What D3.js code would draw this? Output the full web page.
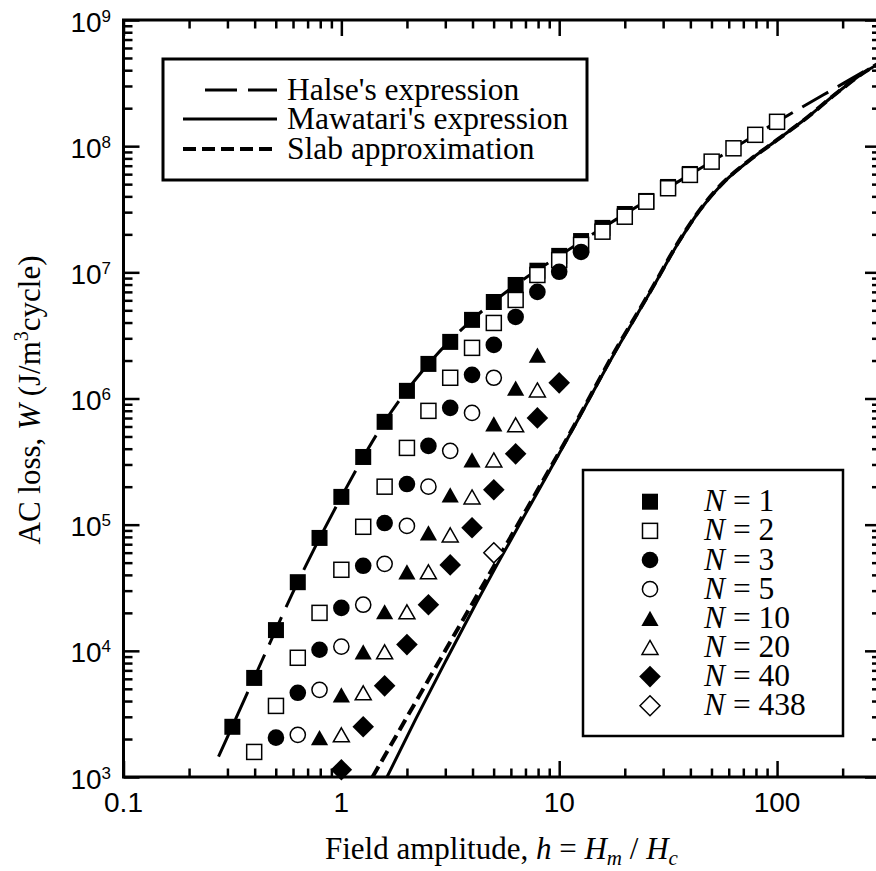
<!DOCTYPE html>
<html><head><meta charset="utf-8">
<script src="https://cdn.jsdelivr.net/npm/d3@7"></script>
<style>body{margin:0;background:#fff}svg{display:block}</style>
</head><body>
<svg id="c" width="876" height="871"></svg>
<script>
// ---- data ----
const n1H = [0.316,0.398,0.501,0.631,0.794,1,1.26,1.58,2,2.51,3.16,3.98,5.01,6.31,7.94,10,12.6,15.8,20,25.1,31.6,39.8];
const n1W = [2500,6100,14600,35000,78500,1.66e5,3.44e5,6.53e5,1.15e6,1.88e6,2.81e6,4.20e6,5.82e6,7.94e6,1.03e7,1.35e7,1.77e7,2.25e7,2.90e7,3.68e7,4.75e7,6.02e7];
const n2H = [0.398,0.501,0.631,0.794,1,1.26,1.58,2,2.51,3.16,3.98,5.01,6.31,7.94,10,12.6,15.8,20,25.1,31.6,39.8,50.1,63.1,79.4,100];
const n2W = [1580,3660,8810,2.0e4,4.39e4,9.62e4,2.0e5,4.06e5,7.98e5,1.46e6,2.52e6,3.97e6,6.04e6,9.53e6,1.25e7,1.65e7,2.10e7,2.76e7,3.63e7,4.64e7,5.92e7,7.54e7,9.62e7,1.23e8,1.56e8];
const n3H = [0.501,0.631,0.794,1,1.26,1.58,2,2.51,3.16,3.98,5.01,6.31,7.94,10,12.6];
const n3W = [2050,4650,1.02e4,2.19e4,4.72e4,1.03e5,2.10e5,4.21e5,8.43e5,1.54e6,2.66e6,4.43e6,7.00e6,1.01e7,1.45e7];
const n5H = [0.631,0.794,1,1.26,1.58,2,2.51,3.16,3.98,5.01];
const n5W = [2160,4910,1.08e4,2.32e4,4.89e4,9.77e4,2.0e5,3.85e5,7.69e5,1.46e6];
const n10H = [0.794,1,1.26,1.58,2,2.51,3.16,3.98,5.01,6.31,7.94];
const n10W = [2050,4480,9820,2.04e4,4.23e4,8.61e4,1.72e5,3.26e5,6.30e5,1.21e6,2.21e6];
const n20H = [1,1.26,1.58,2,2.51,3.16,3.98,5.01,6.31,7.94];
const n20W = [2160,4650,9820,2.04e4,4.23e4,8.30e4,1.66e5,3.26e5,6.18e5,1.17e6];
const n40H = [1,1.26,1.58,2,2.51,3.16,3.98,5.01,6.31,7.94,10];
const n40W = [1140,2500,5280,1.12e4,2.32e4,4.80e4,9.44e4,1.89e5,3.64e5,7.02e5,1.33e6];
const n438H = [5.01];
const n438W = [5.98e4];

const halseH = [0.273,0.398,0.631,1,1.58,2.51,3.98,6.31,10,15.8,25.1,39.8,63.1,100,207,300];
const halseW = [1450,6100,35000,1.66e5,6.53e5,1.88e6,4.20e6,7.94e6,1.35e7,2.25e7,3.68e7,5.95e7,9.62e7,1.56e8,3.23e8,4.68e8];
const mawH = [1.62,2.2,3.03,4.19,5.18,7.11,11.2,19.05,22.3,27,35.2,44.3,56.5,75.2,100,137,188,276,300];
const mawW = [1000,2900,8460,2.45e4,4.8e4,1.28e5,5.2e5,2.74e6,4.35e6,7.66e6,1.71e7,3.12e7,5.11e7,7.78e7,1.12e8,1.68e8,2.64e8,4.24e8,4.55e8];
const slabH = [1.39,2,3,5,7.11,11.2,19.05,22.3,27,35.2,44.3,56.5,75.2,100,137,188,276,300];
const slabW = [1000,2980,10050,4.65e4,1.34e5,5.3e5,2.80e6,4.42e6,7.75e6,1.73e7,3.14e7,5.13e7,7.80e7,1.12e8,1.68e8,2.64e8,4.24e8,4.55e8];

const xTickLabels = ["0.1","1","10","100"];
const yExponents = [3,4,5,6,7,8,9];
const curveNames = ["Halse's expression","Mawatari's expression","Slab approximation"];
const seriesNames = ["1","2","3","5","10","20","40","438"];

// ---- layout ----
const svg = d3.select("#c");
const L = 123.5, R = 881, T = 20, B = 777;
const x = d3.scaleLog().domain([0.1, 300]).range([L, R]);
const y = d3.scaleLog().domain([1e3, 1e9]).range([B, T]);
const SANS = "'Liberation Sans', Arial, Helvetica, sans-serif";
const SERIF = "'Liberation Serif', 'Times New Roman', Times, serif";

svg.append("rect").attr("width",876).attr("height",871).attr("fill","#fff");

// ticks
const xMajor = [0.1,1,10,100];
const xMinor = [];
[0.1,1,10,100].forEach(d=>{for(let m=2;m<=9;m++){const v=d*m; if(v<=300) xMinor.push(v);}});
const yMajor = yExponents.map(e=>Math.pow(10,e));
const yMinor = [];
yMajor.slice(0,-1).forEach(d=>{for(let m=2;m<=9;m++) yMinor.push(d*m);});

function tickAxis(axisFn, scale, vals, size, tr){
  const g = svg.append("g").attr("transform", tr)
    .call(axisFn(scale).tickValues(vals).tickSize(size).tickFormat(""));
  g.select(".domain").remove();
  g.selectAll("line").attr("stroke","#000").attr("stroke-width",2.5);
}
tickAxis(d3.axisBottom, x, xMajor, -16, `translate(0,${B})`);
tickAxis(d3.axisBottom, x, xMinor, -8.5, `translate(0,${B})`);
tickAxis(d3.axisTop, x, xMajor, -16, `translate(0,${T})`);
tickAxis(d3.axisTop, x, xMinor, -8.5, `translate(0,${T})`);
tickAxis(d3.axisLeft, y, yMajor, -16, `translate(${L},0)`);
tickAxis(d3.axisLeft, y, yMinor, -9, `translate(${L},0)`);
tickAxis(d3.axisRight, y, yMajor, -16, `translate(${R},0)`);
tickAxis(d3.axisRight, y, yMinor, -9, `translate(${R},0)`);

svg.append("rect").attr("x",L).attr("y",T).attr("width",R-L).attr("height",B-T)
  .attr("fill","none").attr("stroke","#000").attr("stroke-width",3);

// tick labels
xMajor.forEach((v,i)=>{
  svg.append("text").attr("x",x(v)).attr("y",812).attr("text-anchor","middle")
    .attr("font-family",SANS).attr("font-size",28).text(xTickLabels[i]);
});
yExponents.forEach(e=>{
  const t = svg.append("text").attr("x",111).attr("y",y(Math.pow(10,e))+11.5)
    .attr("text-anchor","end").attr("font-family",SANS).attr("font-size",28);
  t.append("tspan").text("10");
  t.append("tspan").attr("dy",-10).attr("font-size",17).text(e);
});

// axis titles
const xt = svg.append("text").attr("x",325).attr("y",859).attr("font-family",SERIF).attr("font-size",31);
xt.append("tspan").text("Field amplitude, ");
xt.append("tspan").attr("font-style","italic").text("h");
xt.append("tspan").text(" = ");
xt.append("tspan").attr("font-style","italic").text("H");
xt.append("tspan").attr("font-style","italic").attr("font-size",21).attr("dy",6).text("m");
xt.append("tspan").attr("dy",-6).text(" / ");
xt.append("tspan").attr("font-style","italic").text("H");
xt.append("tspan").attr("font-style","italic").attr("font-size",21).attr("dy",6).text("c");

const yt = svg.append("text").attr("transform","translate(39.5,400) rotate(-90)")
  .attr("text-anchor","middle").attr("font-family",SERIF).attr("font-size",31);
yt.append("tspan").text("AC loss, ");
yt.append("tspan").attr("font-style","italic").text("W");
yt.append("tspan").text(" (J/m");
yt.append("tspan").attr("font-size",20).attr("dy",-12).text("3");
yt.append("tspan").attr("dy",12).text("cycle)");

// clip
svg.append("clipPath").attr("id","pc").append("rect")
  .attr("x",L).attr("y",T).attr("width",R-L).attr("height",B-T);

const line = d3.line().x(d=>x(d[0])).y(d=>y(d[1])).curve(d3.curveMonotoneX);
const zip = (a,b)=>a.map((v,i)=>[v,b[i]]);
const curves = svg.append("g").attr("clip-path","url(#pc)");
curves.append("path").attr("d",line(zip(mawH,mawW))).attr("fill","none")
  .attr("stroke","#000").attr("stroke-width",3);
curves.append("path").attr("d",line(zip(slabH,slabW))).attr("fill","none")
  .attr("stroke","#000").attr("stroke-width",4).attr("stroke-dasharray","12,6");
curves.append("path").attr("d",line(zip(halseH,halseW))).attr("fill","none")
  .attr("stroke","#000").attr("stroke-width",3).attr("stroke-dasharray","30,11");

// markers
function marker(g, type, cx, cy){
  const filled = type.startsWith("f");
  const shape = type.slice(1);
  let el;
  if(shape==="sq"){
    el = filled ? g.append("rect").attr("x",cx-8).attr("y",cy-8).attr("width",16).attr("height",16)
                : g.append("rect").attr("x",cx-7.5).attr("y",cy-7.5).attr("width",15).attr("height",15);
  } else if(shape==="ci"){
    el = g.append("circle").attr("cx",cx).attr("cy",cy).attr("r",filled?8.3:7.6);
  } else if(shape==="tr"){
    const w = filled?8.6:8, h = filled?7.6:7;
    el = g.append("path").attr("d",`M${cx},${cy-h}L${cx+w},${cy+h}L${cx-w},${cy+h}Z`);
  } else {
    const r = filled?10.8:10;
    el = g.append("path").attr("d",`M${cx},${cy-r}L${cx+r},${cy}L${cx},${cy+r}L${cx-r},${cy}Z`);
  }
  if(filled) el.attr("fill","#000").attr("stroke","none");
  else el.attr("fill","#fff").attr("stroke","#000").attr("stroke-width",1.5);
}
const series = [
  {h:n1H,w:n1W,t:"fsq"},{h:n2H,w:n2W,t:"osq"},{h:n3H,w:n3W,t:"fci"},{h:n5H,w:n5W,t:"oci"},
  {h:n10H,w:n10W,t:"ftr"},{h:n20H,w:n20W,t:"otr"},{h:n40H,w:n40W,t:"fdi"},{h:n438H,w:n438W,t:"odi"}
];
const mg = svg.append("g");
series.forEach(s=>{ s.h.forEach((hv,i)=>marker(mg, s.t, x(hv), y(s.w[i]))); });

// legend 1
svg.append("rect").attr("x",163).attr("y",59).attr("width",424).attr("height",121)
  .attr("fill","#fff").attr("stroke","#000").attr("stroke-width",3);
const lyy = [90,119,149];
svg.append("line").attr("x1",205).attr("x2",277).attr("y1",lyy[0]).attr("y2",lyy[0])
  .attr("stroke","#000").attr("stroke-width",3).attr("stroke-dasharray","32,11");
svg.append("line").attr("x1",183).attr("x2",277).attr("y1",lyy[1]).attr("y2",lyy[1])
  .attr("stroke","#000").attr("stroke-width",3);
svg.append("line").attr("x1",183).attr("x2",277).attr("y1",lyy[2]).attr("y2",lyy[2])
  .attr("stroke","#000").attr("stroke-width",4).attr("stroke-dasharray","13,6");
curveNames.forEach((n,i)=>{
  svg.append("text").attr("x",287).attr("y",lyy[i]+10).attr("font-family",SERIF)
    .attr("font-size",31.5).text(n);
});

// legend 2
svg.append("rect").attr("x",583).attr("y",470).attr("width",260).attr("height",266)
  .attr("fill","#fff").attr("stroke","#000").attr("stroke-width",2.5);
const lg = svg.append("g");
series.forEach((s,i)=>{
  const cy = 501.7 + i*29.15;
  marker(lg, s.t, 650, cy);
  const t = svg.append("text").attr("x",704).attr("y",cy+9.5).attr("font-family",SERIF).attr("font-size",31.5);
  t.append("tspan").attr("font-style","italic").text("N");
  t.append("tspan").text(" = " + seriesNames[i]);
});
</script>
</body></html>
